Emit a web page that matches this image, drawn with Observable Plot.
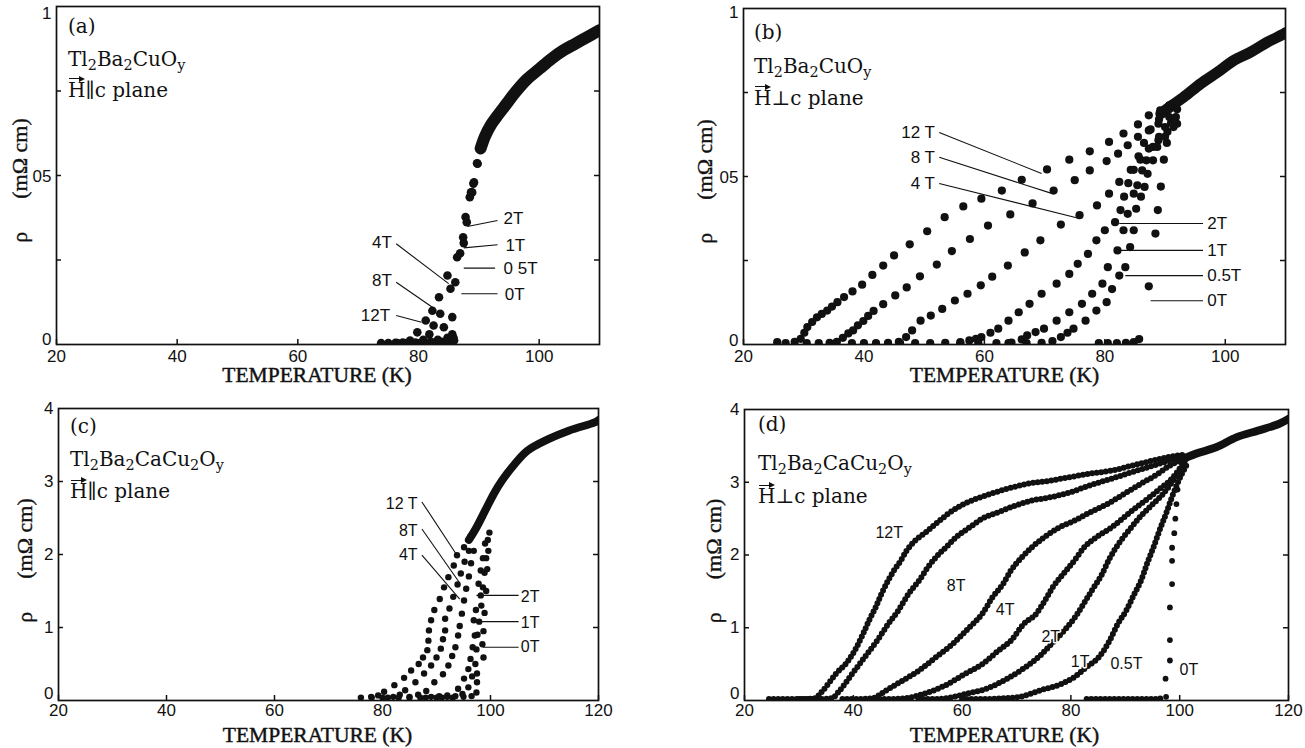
<!DOCTYPE html>
<html><head><meta charset="utf-8">
<script src="https://cdn.jsdelivr.net/npm/d3@7"></script>
<script src="https://cdn.jsdelivr.net/npm/@observablehq/plot@0.6"></script>
<style>
body{margin:0;background:#fff;}
#wrap{position:relative;width:1305px;height:748px;overflow:hidden;background:#fff;}
.panel{position:absolute;}
.note{position:absolute;font-family:"DejaVu Serif","Liberation Serif",serif;font-size:20px;color:#111;line-height:1;white-space:nowrap;}
.note sub{font-size:0.72em;vertical-align:-0.3em;line-height:0;}
.vec{position:relative;display:inline-block;}
.vec::before{content:"";position:absolute;left:1px;right:3px;top:-1.5px;border-top:1.4px solid #111;}
.vec::after{content:"";position:absolute;right:0;top:-4.2px;border-left:6px solid #111;border-top:3px solid transparent;border-bottom:3px solid transparent;}
</style></head><body><div id="wrap"></div>
<script>
// ---------------- DATA ----------------
// Panel (a): Tl2Ba2CuOy, H || c plane  — [T (K), rho (mOhm cm)]
const a_12T = [[73.8,0.004],[75,0.004],[76.2,0.005],[77.4,0.006],[78.6,0.012],[79.8,0.036],[81.2,0.071],[82.3,0.10],[83.4,0.14],[84.8,0.204]];
const a_8T  = [[76.5,0.004],[78,0.004],[79.5,0.006],[80.8,0.014],[81.8,0.03],[82.5,0.056],[83.6,0.091],[85.3,0.165]];
const a_4T  = [[79,0.004],[80.5,0.005],[82,0.008],[83.2,0.014],[84.2,0.051],[85.6,0.081],[86.1,0.184]];
const a_2T  = [[81,0.004],[82.5,0.005],[83.8,0.008],[84.8,0.02],[85.6,0.03]];
const a_1T  = [[82.5,0.004],[84,0.005],[85.0,0.012],[85.8,0.02]];
const a_05T = [[83.5,0.004],[84.7,0.006],[85.5,0.01]];
const a_0T  = [[84.5,0.004],[85.5,0.006],[85.9,0.012]];
const a_common = [[86.4,0.258],[86.9,0.27],[87.4,0.317],[87.5,0.30],[87.8,0.377],[88.0,0.362],[88.5,0.436],[88.7,0.45],[88.9,0.45],[89.1,0.476],[89.2,0.48],[89.7,0.536],[89.8,0.535],[90.3,0.58]];
const a_band = [[90.3,0.58],[91,0.615],[92,0.65],[93,0.675],[94.5,0.71],[96,0.745],[98,0.785],[100,0.815],[102,0.845],[104,0.87],[106,0.89],[108,0.91],[110,0.93]];
const a_noteText = ["2T","1T","0 5T","0T","4T","8T","12T"];
const a_noteT    = [94.1,94.4,94.1,94.3,75.6,75.6,75.3];
const a_noteRho  = [0.372,0.293,0.225,0.148,0.303,0.19,0.086];
const a_noteSide = ["start","start","start","start","end","end","end"];
const a_leadT1 = [88.1,87.5,87.5,87.1,76.3,76.3,76.3];
const a_leadR1 = [0.349,0.286,0.226,0.15,0.298,0.184,0.086];
const a_leadT2 = [93.1,93.1,92.7,93.1,85.0,82.3,80.5];
const a_leadR2 = [0.367,0.295,0.226,0.15,0.18,0.11,0.066];

// Panel (b): Tl2Ba2CuOy, H ⊥ c plane
const b_12T = [[25.6,0.007],[27,0.004],[28.5,0.008],[29.5,0.017],[30.1,0.035],[30.6,0.052],[31.4,0.067],[32.2,0.081],[33.0,0.091],[33.9,0.101],[34.7,0.113],[35.6,0.126],[36.7,0.141],[38.1,0.158],[39.7,0.178],[41.4,0.207],[43.2,0.235],[45,0.265],[47.6,0.298],[50.5,0.337],[53.4,0.379],[56.5,0.411],[59.5,0.434],[62.9,0.458],[66.2,0.49],[70.4,0.521],[74.1,0.55],[77.5,0.575],[80.7,0.603],[83.1,0.628],[85.5,0.655],[87.3,0.682],[89.2,0.697],[90.7,0.712]];
const b_8T  = [[30.5,0.004],[32.5,0.004],[34.3,0.005],[35.5,0.008],[36.5,0.02],[37.4,0.033],[38.2,0.042],[39,0.057],[39.9,0.07],[40.7,0.085],[41.6,0.10],[43.2,0.12],[45.2,0.146],[47.1,0.17],[49.3,0.203],[52.1,0.238],[54.6,0.278],[57.6,0.314],[60.6,0.354],[64.3,0.387],[68,0.42],[71.5,0.458],[75,0.489],[77.5,0.518],[80.3,0.546],[82.2,0.568],[83.8,0.593],[85.5,0.618],[87.3,0.637],[88.9,0.657],[90.7,0.677]];
const b_4T  = [[38,0.004],[40,0.004],[42,0.004],[44,0.005],[45.8,0.008],[47,0.022],[48,0.042],[49.4,0.071],[51.1,0.086],[53,0.106],[55.1,0.131],[57.2,0.151],[59.4,0.176],[61.3,0.202],[63.9,0.235],[66.7,0.274],[69.3,0.31],[72.7,0.357],[75.8,0.385],[78.7,0.414],[80.7,0.449],[82.4,0.484],[84.3,0.52],[85.9,0.55],[87.3,0.583],[88.9,0.608],[90.4,0.633],[92,0.657]];
const b_2T  = [[46,0.004],[48.5,0.004],[51,0.004],[53.5,0.005],[56,0.007],[57.5,0.012],[58.6,0.017],[59.5,0.022],[61,0.035],[62.3,0.047],[64,0.071],[65.7,0.096],[67.5,0.121],[69.5,0.151],[72,0.181],[74.1,0.21],[75.5,0.24],[77.2,0.27],[78.6,0.31],[80,0.34],[81.7,0.364],[82.6,0.40],[83.2,0.44],[83.9,0.48],[84.8,0.52],[85.6,0.56],[86.5,0.60],[87.6,0.64],[89,0.67],[90.5,0.70]];
const b_1T  = [[56,0.004],[59,0.004],[62,0.004],[64.5,0.006],[66.2,0.015],[67.1,0.027],[68.5,0.037],[69.9,0.047],[72,0.071],[74.1,0.096],[76.2,0.121],[77.9,0.151],[79.6,0.181],[80.5,0.23],[82.1,0.28],[83.1,0.34],[83.8,0.389],[84.8,0.449],[85.4,0.474],[86.2,0.518],[86.9,0.548],[88,0.588],[89,0.618],[90,0.647],[91.8,0.677]];
const b_05T = [[64,0.004],[67,0.004],[69.5,0.005],[71.3,0.01],[72.7,0.022],[73.8,0.035],[74.8,0.047],[76.8,0.071],[78.6,0.101],[80.3,0.126],[81.2,0.165],[82.4,0.205],[83.4,0.23],[84.2,0.29],[84.8,0.34],[85.2,0.404],[86.0,0.44],[86.6,0.469],[87.1,0.508],[88,0.548],[88.7,0.588],[90,0.618],[91.4,0.647]];
const b_0T  = [[79,0.004],[80.5,0.004],[82,0.004],[83.5,0.005],[84.8,0.007],[85.7,0.016],[87.3,0.173],[88.4,0.33],[88.8,0.40],[89.3,0.47],[89.8,0.55],[90.3,0.60],[91,0.66],[92,0.70]];
const b_band = [[89.3,0.687],[91,0.71],[93.1,0.736],[95.9,0.776],[98.7,0.81],[101.4,0.845],[104.2,0.87],[107,0.90],[109.8,0.925],[110,0.928]];
const b_noteText = ["12 T","8 T","4 T","2T","1T","0.5T","0T"];
const b_noteT    = [51.8,51.8,51.8,97,97,97,97];
const b_noteRho  = [0.631,0.557,0.479,0.36,0.28,0.205,0.13];
const b_noteSide = ["end","end","end","start","start","start","start"];
const b_leadT1 = [52.5,52.5,52.5,82.4,82.3,83.4,87.6];
const b_leadR1 = [0.631,0.557,0.479,0.36,0.28,0.205,0.13];
const b_leadT2 = [69.5,71.3,75.8,96.3,96.3,96.3,96.3];
const b_leadR2 = [0.509,0.449,0.375,0.36,0.28,0.205,0.13];

// Panel (c): Tl2Ba2CaCu2Oy, H || c plane
const c_12T = [[76,0.04],[77.9,0.05],[79.2,0.07],[80.3,0.12],[82.2,0.21],[84,0.31],[85.3,0.41],[86.7,0.50],[87.5,0.59],[88.3,0.69],[88.5,0.82],[88.6,0.96],[89,1.10],[89.6,1.24],[90.6,1.39],[91.4,1.55],[92.2,1.69],[93.2,1.85],[93.8,1.99],[95.1,2.10],[96.3,2.25]];
const c_8T  = [[78,0.04],[80,0.04],[82,0.05],[83.2,0.08],[84.2,0.14],[86.1,0.25],[87.7,0.37],[89,0.48],[90,0.59],[90.8,0.71],[91.2,0.84],[91.6,0.96],[91.6,1.12],[92.4,1.26],[93.1,1.42],[93.9,1.59],[94.5,1.74],[95.2,1.90],[96,2.05]];
const c_4T  = [[81,0.04],[83,0.04],[85,0.05],[86.6,0.08],[88.1,0.13],[89.6,0.25],[91.2,0.36],[92.2,0.48],[92.9,0.61],[93.5,0.73],[94,0.89],[94.3,1.02],[94.7,1.19],[95.1,1.37],[95.5,1.53],[96,1.70],[96.4,1.88],[96.9,2.05]];
const c_2T  = [[85,0.04],[87,0.04],[89,0.05],[90.5,0.06],[92,0.07],[94,0.16],[95.1,0.30],[95.9,0.43],[96.3,0.57],[96.7,0.73],[97.1,0.89],[96.9,1.10],[97.3,1.24],[98.2,1.44],[97.8,1.60],[98.2,1.78],[98.6,1.95],[99,2.15]];
const c_1T  = [[88,0.04],[90,0.04],[92,0.05],[93.5,0.06],[94.8,0.09],[95.9,0.18],[96.6,0.33],[97.2,0.50],[97.4,0.70],[97.6,0.90],[97.9,1.08],[98.3,1.30],[98.6,1.55],[98.9,1.75],[99.2,1.95],[99.5,2.20]];
const c_0T  = [[91,0.04],[93,0.04],[95,0.05],[96.5,0.06],[97.4,0.11],[97.5,0.25],[97.5,0.37],[98.7,0.59],[98.5,0.77],[98.7,0.95],[98.9,1.20],[99.2,1.50],[99.4,1.80],[99.6,2.05],[99.8,2.30]];
const c_band = [[96,2.2],[97.4,2.37],[99,2.6],[100.6,2.83],[102.1,3.01],[104.5,3.24],[106.8,3.42],[110.7,3.58],[114.6,3.70],[119.3,3.81],[120,3.84]];
const c_noteText = ["12 T","8T","4T","2T","1T","0T"];
const c_noteT    = [86.5,86.5,86.5,105.6,105.6,105.6];
const c_noteRho  = [2.69,2.32,2.0,1.415,1.07,0.73];
const c_noteSide = ["end","end","end","start","start","start"];
const c_leadT1 = [87.3,87.3,87.3,97.4,97.4,98.6];
const c_leadR1 = [2.72,2.35,1.99,1.44,1.08,0.73];
const c_leadT2 = [93.7,94.2,94.3,105.2,105.2,105.2];
const c_leadR2 = [2.0,1.62,1.39,1.44,1.08,0.73];

// Panel (d): Tl2Ba2CaCu2Oy, H ⊥ c plane
const d_12T = [[24.5,0.02],[28,0.02],[31,0.02],[32.9,0.03],[34.4,0.137],[36.8,0.367],[39.1,0.55],[40.6,0.733],[41.8,0.916],[42.9,1.10],[44.1,1.28],[45.2,1.47],[46.4,1.65],[47.5,1.79],[48.7,1.92],[49.8,2.06],[51.4,2.20],[53.3,2.31],[55.2,2.43],[57.5,2.57],[59.8,2.68],[62.5,2.77],[65.2,2.84],[68.3,2.91],[72.1,2.98],[76,3.02],[79.8,3.07],[83.6,3.12],[87.5,3.16],[91.3,3.23],[95.2,3.30],[98.2,3.35],[101,3.38]];
const d_8T  = [[30,0.02],[33,0.02],[36,0.03],[37.5,0.137],[39.8,0.367],[42.1,0.596],[44.4,0.825],[46.4,1.05],[48.3,1.24],[50.2,1.47],[52.1,1.65],[53.7,1.83],[55.2,1.97],[57.1,2.11],[59,2.25],[61.4,2.38],[63.7,2.50],[66.7,2.59],[69.8,2.68],[72.9,2.75],[76,2.79],[79.8,2.86],[83.6,2.96],[87.5,3.05],[91.3,3.14],[95.2,3.23],[98.2,3.30],[101,3.36]];
const d_4T  = [[38,0.02],[41,0.02],[43.5,0.03],[46,0.137],[49.1,0.275],[52.1,0.413],[55.2,0.596],[58.3,0.78],[61.4,1.01],[63.7,1.19],[65.6,1.42],[67.5,1.60],[69,1.79],[71,1.97],[72.9,2.11],[75.2,2.25],[77.9,2.38],[80.6,2.47],[83.6,2.59],[86.7,2.70],[89.8,2.84],[92.9,2.98],[95.9,3.11],[98.2,3.23],[101,3.33]];
const d_2T  = [[44,0.02],[47,0.02],[49.5,0.03],[52.9,0.09],[56.7,0.20],[60.6,0.367],[63.7,0.50],[66.7,0.687],[69,0.825],[71.3,1.05],[73.6,1.19],[75.2,1.37],[76.7,1.56],[78.6,1.74],[80.6,1.92],[82.5,2.11],[84.8,2.25],[87.5,2.38],[89.8,2.52],[92.1,2.66],[94.4,2.79],[96.7,2.93],[98.2,3.02],[101,3.30]];
const d_1T  = [[52,0.02],[55,0.02],[57,0.03],[60.6,0.09],[64.4,0.16],[68.3,0.30],[71.3,0.44],[74.4,0.62],[76.7,0.80],[79,0.98],[81,1.17],[82.5,1.35],[84,1.53],[85.6,1.72],[87.1,1.95],[89,2.18],[90.9,2.36],[92.9,2.54],[94.8,2.68],[96.7,2.82],[98.6,3.0],[101,3.28]];
const d_05T = [[60,0.02],[64,0.02],[67,0.03],[70.6,0.05],[74.4,0.14],[78.3,0.23],[80.6,0.32],[82.9,0.46],[85.2,0.60],[87.1,0.82],[88.6,1.05],[90.2,1.24],[91.7,1.47],[92.9,1.65],[94,1.88],[95.2,2.11],[96.3,2.34],[97.5,2.57],[98.6,2.80],[99.8,3.02],[101.5,3.27]];
const d_0T_base = [[82.9,0.02],[86,0.02],[89,0.02],[92,0.02],[95,0.02],[97,0.03]];
const d_0T = [[97.5,0.05],[97.4,0.30],[98.2,0.55],[98.2,0.83],[98.2,1.28],[98.6,1.60],[98.6,1.92],[98.6,2.10],[99,2.30],[99.2,2.50],[99.4,2.70],[99.6,2.90],[100,3.10]];
const d_band = [[100,3.30],[102.9,3.39],[106.7,3.48],[110.5,3.62],[114.4,3.71],[118.2,3.80],[120,3.87]];
const d_noteText = ["12T","8T","4T","2T","1T","0.5T","0T"];
const d_noteT    = [46.6,58.9,67.9,76.3,81.7,90.2,101.7];
const d_noteRho  = [2.31,1.58,1.24,0.87,0.53,0.50,0.42];

// Axis ticks and labels
const xTicksAB = [20,40,60,80,100];
const xTicksCD = [20,40,60,80,100,120];
const yTicksAB = [0.25,0.5,0.75];
const yLabelTicksAB = [0,0.5,1];
const yLabelsAB = ["0","05","1"];
const yTicksCD = [1,2,3];
const yLabelTicksCD = [0,1,2,3,4];
const yLabelsCD = ["0","1","2","3","4"];
const xTitle = "TEMPERATURE (K)";
const yTitle = "ρ\u2003\u2002(mΩ cm)";

// ---------------- RENDER ----------------
const SERIF = "'Liberation Serif','Times New Roman',serif";
const SANS = "'Liberation Sans',Arial,sans-serif";
const INK = "#111";

const rows = (series) => series.flatMap(([field, arr]) => arr.map(([T, rho]) => ({field, T, rho})));
const notes = (text, T, rho, side) => text.map((t, i) => ({text: t, T: T[i], rho: rho[i], side: side ? side[i] : "middle"}));
const leads = (T1, R1, T2, R2) => T1.map((t, i) => ({T1: t, R1: R1[i], T2: T2[i], R2: R2[i]}));

function noteMarks(ns, fs) {
  return ["start", "end", "middle"].map(side => Plot.text(ns.filter(n => n.side === side), {
    x: "T", y: "rho", text: "text", textAnchor: side, fontFamily: SANS, fontSize: fs, fill: INK,
    stroke: "white", strokeWidth: 3, paintOrder: "stroke"
  }));
}
function leadMarks(ls) {
  return Plot.link(ls, {x1: "T1", y1: "R1", x2: "T2", y2: "R2", stroke: INK, strokeWidth: 1.1});
}

function makePanel(cfg) {
  const {left, top, width, height, mL, mR, mT, mB, xDomain, yDomain, xTicks, yTicks, yLabelTicks, yLabels, yLabelShift,
         ylabelDx, ylabelDy, xlabelDx, xlabelDy, tickPad, marks} = cfg;
  const W = width - mL - mR, H = height - mT - mB;
  const svg = Plot.plot({
    width, height, marginLeft: mL, marginRight: mR, marginTop: mT, marginBottom: mB,
    x: {domain: xDomain}, y: {domain: yDomain},
    style: {fontFamily: SANS, fontSize: "17px", color: INK, background: "transparent", overflow: "visible"},
    marks: [
      ...marks,
      Plot.frame({stroke: INK, strokeWidth: 1.7}),
      Plot.tickX(xTicks, {x: d => d, insetTop: H - 5, stroke: INK, strokeWidth: 1.5}),
      Plot.tickY(yTicks, {y: d => d, insetRight: W - 5, stroke: INK, strokeWidth: 1.5}),
      Plot.tickY(yTicks, {y: d => d, insetLeft: W - 5, stroke: INK, strokeWidth: 1.5}),
      Plot.axisX({ticks: xTicks, tickSize: 0, tickPadding: tickPad, fontSize: 17, fontFamily: SANS, label: null}),
      ...yLabelTicks.map((t, i) => Plot.axisY([t], {tickFormat: () => yLabels[i], tickSize: 0, tickPadding: 5, dy: yLabelShift[i], fontSize: 17, fontFamily: SANS, label: null})),
      Plot.text([xTitle], {text: d => d, frameAnchor: "bottom", textAnchor: "middle", lineAnchor: "middle", dx: xlabelDx, dy: xlabelDy,
        fontFamily: SERIF, fontSize: 21.5, fill: INK, stroke: INK, strokeWidth: 0.45}),
      Plot.text([yTitle], {text: d => d, frameAnchor: "left", textAnchor: "middle", lineAnchor: "middle", dx: ylabelDx, dy: ylabelDy, rotate: -90,
        fontFamily: SERIF, fontSize: 22, fill: INK, stroke: INK, strokeWidth: 0.35})
    ]
  });
  const div = document.createElement("div");
  div.className = "panel";
  div.style.left = left + "px";
  div.style.top = top + "px";
  div.appendChild(svg);
  document.getElementById("wrap").appendChild(div);
}

function addNote(left, top, html) {
  const d = document.createElement("div");
  d.className = "note";
  d.style.left = left + "px";
  d.style.top = top + "px";
  d.innerHTML = html;
  document.getElementById("wrap").appendChild(d);
}

const dotOpts = (r) => ({x: "T", y: "rho", r, fill: INK, stroke: "none", clip: true});
const bandOpts = (w) => ({x: d => d[0], y: d => d[1], stroke: INK, strokeWidth: w, strokeLinecap: "round", curve: "catmull-rom", clip: true});

// (a)
makePanel({
  left: 0, top: 0, width: 650, height: 395, mL: 56, mR: 51, mT: 6, mB: 51,
  xDomain: [20, 110], yDomain: [0, 1], xTicks: xTicksAB, yTicks: yTicksAB,
  yLabelTicks: yLabelTicksAB, yLabels: yLabelsAB, yLabelShift: [-5, 1, 7],
  ylabelDx: -37, ylabelDy: 5, xlabelDx: -11, xlabelDy: 31, tickPad: 5,
  marks: [
    Plot.line(a_band, bandOpts(12)),
    Plot.dot(rows([["12T", a_12T], ["8T", a_8T], ["4T", a_4T], ["2T", a_2T], ["1T", a_1T], ["0.5T", a_05T], ["0T", a_0T], ["all", a_common]]), dotOpts(4.3)),
    leadMarks(leads(a_leadT1, a_leadR1, a_leadT2, a_leadR2)),
    ...noteMarks(notes(a_noteText, a_noteT, a_noteRho, a_noteSide), 17)
  ]
});
// (b)
makePanel({
  left: 650, top: 0, width: 655, height: 395, mL: 93, mR: 20, mT: 8, mB: 51,
  xDomain: [20, 110], yDomain: [0, 1], xTicks: xTicksAB, yTicks: yTicksAB,
  yLabelTicks: yLabelTicksAB, yLabels: yLabelsAB, yLabelShift: [-4, 1, 4],
  ylabelDx: -39, ylabelDy: 5, xlabelDx: -10, xlabelDy: 31, tickPad: 5,
  marks: [
    Plot.line(b_band, bandOpts(11)),
    Plot.dot(rows([["12T", b_12T], ["8T", b_8T], ["4T", b_4T], ["2T", b_2T], ["1T", b_1T], ["0.5T", b_05T], ["0T", b_0T]]), dotOpts(4.1)),
    leadMarks(leads(b_leadT1, b_leadR1, b_leadT2, b_leadR2)),
    ...noteMarks(notes(b_noteText, b_noteT, b_noteRho, b_noteSide), 17)
  ]
});
// (c)
makePanel({
  left: 0, top: 395, width: 650, height: 353, mL: 58, mR: 52, mT: 13, mB: 48,
  xDomain: [20, 120], yDomain: [0, 4], xTicks: xTicksCD, yTicks: yTicksCD,
  yLabelTicks: yLabelTicksCD, yLabels: yLabelsCD, yLabelShift: [-7, 0, 0, 0, 0],
  ylabelDx: -34, ylabelDy: 6, xlabelDx: -11, xlabelDy: 35, tickPad: 3,
  marks: [
    Plot.line(c_band, bandOpts(8)),
    Plot.dot(rows([["12T", c_12T], ["8T", c_8T], ["4T", c_4T], ["2T", c_2T], ["1T", c_1T], ["0T", c_0T]]), dotOpts(3.2)),
    leadMarks(leads(c_leadT1, c_leadR1, c_leadT2, c_leadR2)),
    ...noteMarks(notes(c_noteText, c_noteT, c_noteRho, c_noteSide), 16)
  ]
});
// (d)
const dCurves = rows([["12T", d_12T], ["8T", d_8T], ["4T", d_4T], ["2T", d_2T], ["1T", d_1T], ["0.5T", d_05T], ["0T", d_0T_base]]);
makePanel({
  left: 650, top: 395, width: 655, height: 353, mL: 94, mR: 17, mT: 14, mB: 48,
  xDomain: [20, 120], yDomain: [0, 4], xTicks: xTicksCD, yTicks: yTicksCD,
  yLabelTicks: yLabelTicksCD, yLabels: yLabelsCD, yLabelShift: [-7, 0, 0, 0, 0],
  ylabelDx: -31, ylabelDy: 6, xlabelDx: -12, xlabelDy: 35, tickPad: 3,
  marks: [
    Plot.line(d_band, bandOpts(8)),
    Plot.line(dCurves, {x: "T", y: "rho", z: "field", stroke: INK, strokeWidth: 6, strokeDasharray: "0 4.6", strokeLinecap: "round", curve: "monotone-x", clip: true}),
    Plot.dot(rows([["0T", d_0T]]), dotOpts(2.9)),
    ...noteMarks(notes(d_noteText, d_noteT, d_noteRho), 16)
  ]
});

// Panel annotations
const vecH = '<span class="vec">H</span>';
const comp1 = "Tl<sub>2</sub>Ba<sub>2</sub>CuO<sub>y</sub>";
const comp2 = "Tl<sub>2</sub>Ba<sub>2</sub>CaCu<sub>2</sub>O<sub>y</sub>";
addNote(68, 16.1, "(a)");   addNote(68, 49.1, comp1);   addNote(68, 79.7, vecH + "∥c plane");
addNote(754, 22.1, "(b)");  addNote(754, 56.1, comp1);  addNote(754, 87.7, vecH + "⊥c plane");
addNote(70, 415.6, "(c)");  addNote(70, 449.4, comp2);  addNote(70, 481.1, vecH + "∥c plane");
addNote(758, 414.1, "(d)"); addNote(758, 452.7, comp2); addNote(758, 486.1, vecH + "⊥c plane");
</script></body></html>
